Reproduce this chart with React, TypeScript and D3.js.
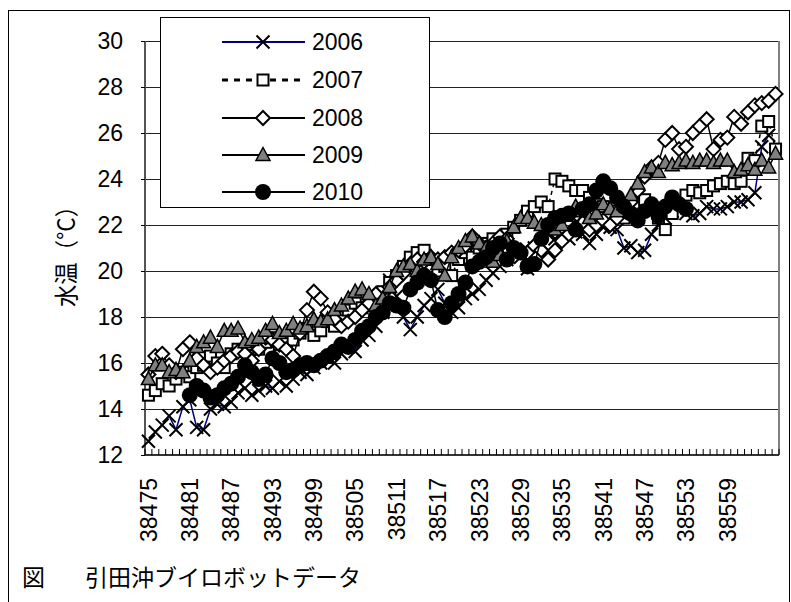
import React from "react";
import * as d3 from "d3";

// ---- data -------------------------------------------------------------
const firstDay = 38475;
const dayCount = 92;
const categories: number[] = d3.range(dayCount).map((i) => firstDay + i);
const tickLabels: string[] = [
  "38475", "38481", "38487", "38493", "38499", "38505", "38511", "38517",
  "38523", "38529", "38535", "38541", "38547", "38553", "38559",
];
const yTicks: number[] = [12, 14, 16, 18, 20, 22, 24, 26, 28, 30];

const s2006: (number | null)[] = [
  12.6, 13.0, 13.3, 13.7, 13.1, 14.1, 14.4, 13.2, 13.1, 14.0,
  14.2, 14.1, 14.3, 14.7, 14.9, 14.6, 14.8, 15.0, 14.9, 15.2,
  15.0, 15.3, 15.6, 15.5, 15.8, 16.0, 16.2, 16.0, 16.4, 16.7,
  16.5, 17.0, 17.2, 17.6, 18.2, 19.6, 18.9, 18.0, 17.45, 18.0,
  18.5, 18.8, 19.2, 18.6, 18.2, 18.4, 18.8, 19.0, 19.2, 19.6,
  19.9, 20.2, 20.5, 20.8, 20.6, 20.1, 21.0, 21.2, 21.6, 21.4,
  21.5, 21.4, 21.7, 21.6, 21.2, 21.6, 21.9, 21.9, 21.8, 21.0,
  21.1, 20.8, 20.9, 21.6, 22.0, 22.3, 22.6, 22.8, 22.5, 22.4,
  22.5, 22.8, 22.7, 22.7, 22.8, 23.0, 23.0, 23.1, 23.4, 25.4,
  25.9, null,
];
const s2007: (number | null)[] = [
  14.6, 14.8, 15.1, 15.0, 15.3, 15.6, 15.4, 15.8, 15.9, 16.3,
  16.0, 15.8, 16.4, 16.6, 16.5, 16.8, 16.6, 16.9, 17.1, 16.8,
  16.9, 17.0, 17.3, 17.5, 17.2, 17.4, 17.8, 17.6, 18.0, 18.3,
  18.6, 18.4, 18.5, 18.7, 19.1, 19.5, 19.8, 20.2, 20.6, 20.8,
  20.9, 20.5, 20.0, 20.2, 19.8, 20.5, 20.8, 20.6, 21.0, 21.2,
  21.4, 21.3, 21.6, 21.9, 22.2, 22.6, 22.8, 23.0, 22.8, 24.0,
  23.9, 23.7, 23.5, 23.5, 23.2, 22.9, 22.8, 22.5, 22.6, 22.3,
  22.6, 22.9, 23.1, 22.8, 22.3, 21.8, 22.5, 23.0, 23.3, 23.5,
  23.4, 23.5, 23.7, 23.8, 23.9, 23.8, 23.9, 24.9, 24.8, 26.3,
  26.5, 25.3,
];
const s2008: (number | null)[] = [
  15.5, 16.3, 16.4, 15.9, 15.6, 16.6, 16.9, 16.2, 15.9, 15.6,
  15.8, 16.1, 16.3, 16.5, 16.4, 16.1, 16.6, 17.1, 17.0, 16.8,
  16.6, 16.3, 17.3, 18.3, 19.1, 18.8, 18.2, 17.9, 17.6, 17.8,
  18.0, 18.3, 18.6, 19.0, 18.7, 19.3, 19.6, 19.9, 20.3, 20.5,
  20.4, 20.6, 20.5, 20.6, 20.8, 20.9, 21.1, 21.5, 21.2, 21.0,
  21.2, 21.5, 21.4, 21.0, 20.9, 20.8, 21.1, 20.9, 20.5, 20.9,
  21.3, 21.6, 21.9, 22.1, 21.8, 22.0, 22.2, 22.0, 22.3, 22.6,
  23.0, 23.5, 24.1, 24.5, 24.7, 25.7, 26.0, 25.3, 25.4, 26.0,
  26.3, 26.6, 25.3, 25.7, 25.8, 26.7, 26.4, 26.9, 27.2, 27.3,
  27.4, 27.7,
];
const s2009: (number | null)[] = [
  15.3, 15.9, 15.9, 15.6, 15.7, 15.6, 16.1, 16.7, 16.9, 17.1,
  16.7, 17.4, 17.4, 17.5, 16.9, 17.0, 17.1, 17.4, 17.7, 17.3,
  17.4, 17.7, 17.5, 17.6, 17.9, 17.8, 17.9, 18.3, 18.5, 18.8,
  19.1, 19.2, 19.0, 18.5, 18.8, 19.3, 20.0, 20.2, 20.3, 20.0,
  20.5, 20.6, 20.3, 19.8, 20.6, 21.0, 21.3, 21.5, 21.2, 21.0,
  20.4, 20.7, 21.3, 21.9, 22.3, 22.3, 22.1, 22.0, 21.9, 21.8,
  22.0, 22.4, 22.8, 22.6, 22.3, 22.5, 22.9, 22.7, 22.6, 22.9,
  23.3, 23.8, 24.3, 24.5, 24.3, 24.7, 24.6, 24.7, 24.8, 24.7,
  24.8, 24.8, 24.7, 24.8, 24.8, 24.3, 24.4, 24.6, 24.4, 24.8,
  24.5, 25.1,
];
const s2010: (number | null)[] = [
  null, null, null, null, null, null,
  14.6, 15.0, 14.8, 14.5, 14.6, 14.9, 15.1, 15.4, 15.9, 15.6,
  15.3, 15.5, 16.2, 16.0, 15.6, 15.7, 15.9, 16.0, 15.9, 16.1,
  16.3, 16.5, 16.8, 16.7, 17.0, 17.4, 17.6, 18.0, 18.2, 18.6,
  18.5, 18.4, 19.2, 19.5, 19.8, 19.6, 18.3, 18.0, 18.6, 19.0,
  19.5, 20.2, 20.4, 20.6, 21.0, 21.2, 20.5, 21.0, 20.8, 20.2,
  20.3, 21.4, 22.0, 22.3, 22.4, 22.5, 21.8, 22.7, 22.9, 23.5,
  23.9, 23.6, 23.2, 22.8, 22.5, 22.2, 22.6, 22.9, 22.4, 22.8,
  23.2, 22.9, 22.7,
  null, null, null, null, null, null, null, null, null, null, null, null, null,
];
const seriesNames: string[] = ["2006", "2007", "2008", "2009", "2010"];
const seriesValues = [s2006, s2007, s2008, s2009, s2010];

// ---- layout -----------------------------------------------------------
const W = 791;
const H = 602;
const plotL = 145;
const plotR = 779;
const plotT = 41;
const plotB = 455;
const NUM_FONT = "'Liberation Sans', Arial, sans-serif";
const JP_FONT = "'Noto Sans CJK JP', 'Noto Sans', sans-serif";

type Kind = "x" | "square" | "diamond" | "triangle" | "circle";
const styles: { kind: Kind; stroke: string; dash?: string }[] = [
  { kind: "x", stroke: "#000080" },
  { kind: "square", stroke: "#000", dash: "4,4" },
  { kind: "diamond", stroke: "#000" },
  { kind: "triangle", stroke: "#000" },
  { kind: "circle", stroke: "#000" },
];

function Marker({ kind, x, y }: { kind: Kind; x: number; y: number }) {
  switch (kind) {
    case "x":
      return (
        <path
          d={`M${x - 6.5},${y - 6.5}L${x + 6.5},${y + 6.5}M${x - 6.5},${y + 6.5}L${x + 6.5},${y - 6.5}`}
          stroke="#000"
          strokeWidth={2}
          fill="none"
        />
      );
    case "square":
      return <rect x={x - 5.5} y={y - 5.5} width={11} height={11} fill="#fff" stroke="#000" strokeWidth={2} />;
    case "diamond":
      return (
        <path
          d={`M${x},${y - 7}L${x + 7},${y}L${x},${y + 7}L${x - 7},${y}Z`}
          fill="#fff"
          stroke="#000"
          strokeWidth={2}
        />
      );
    case "triangle":
      return (
        <path
          d={`M${x},${y - 7.5}L${x + 7},${y + 5.5}L${x - 7},${y + 5.5}Z`}
          fill="#808080"
          stroke="#000"
          strokeWidth={1.5}
        />
      );
    case "circle":
      return <circle cx={x} cy={y} r={8} fill="#000" />;
  }
}

export default function App() {
  const x = d3.scaleBand<number>().domain(categories).range([plotL, plotR]).padding(0);
  const y = d3.scaleLinear().domain([12, 30]).range([plotB, plotT]);
  const cx = (d: number) => (x(d) as number) + x.bandwidth() / 2;

  const line = d3
    .line<{ d: number; v: number | null }>()
    .defined((p) => p.v != null)
    .x((p) => cx(p.d))
    .y((p) => y(p.v as number));

  const tickBounds = d3.range(dayCount + 1).map((i) => plotL + i * x.bandwidth());

  const legX = 160;
  const legY = 17;
  const legW = 269;
  const legH = 190;
  const legRows = [42, 80, 118, 155, 192];

  return (
    <svg
      width={W}
      height={H}
      style={{ position: "absolute", left: 0, top: 0, background: "#fff" }}
    >
      <rect x={0} y={0} width={W} height={H} fill="#fff" />
      {/* outer frame */}
      <rect x={8.5} y={10.5} width={781} height={620} fill="none" stroke="#000" strokeWidth={1} />

      {/* gridlines */}
      {yTicks.map((t) => (
        <line key={t} x1={plotL} x2={plotR} y1={Math.round(y(t)) + 0.5} y2={Math.round(y(t)) + 0.5} stroke="#222" strokeWidth={1} />
      ))}

      {/* y tick labels */}
      {yTicks.map((t) => (
        <text key={t} x={123} y={y(t)} dy="0.36em" textAnchor="end" fontFamily={NUM_FONT} fontSize={23} fill="#000">
          {t}
        </text>
      ))}

      {/* y axis title */}
      <text
        transform={`translate(66,251) rotate(-90)`}
        textAnchor="middle"
        dy="0.36em"
        fontFamily={JP_FONT}
        fontSize={24}
        textLength={112}
        lengthAdjust="spacingAndGlyphs"
        fill="#000"
      >
        水温（°C）
      </text>

      {/* plot frame */}
      <line x1={plotL} x2={plotL} y1={plotT} y2={plotB} stroke="#555" strokeWidth={2} />
      <line x1={plotR} x2={plotR} y1={plotT} y2={plotB} stroke="#808080" strokeWidth={2} />
      <line x1={plotL} x2={plotR} y1={plotB} y2={plotB} stroke="#333" strokeWidth={2} />
      {tickBounds.map((bx, i) => (
        <line key={i} x1={bx} x2={bx} y1={plotB} y2={plotB - 6} stroke="#000" strokeWidth={1} />
      ))}
      {yTicks.map((t) => (
        <line key={t} x1={plotL - 4} x2={plotL} y1={Math.round(y(t)) + 0.5} y2={Math.round(y(t)) + 0.5} stroke="#000" strokeWidth={1} />
      ))}

      {/* x tick labels */}
      {tickLabels.map((lab) => {
        const d = +lab;
        return (
          <text
            key={lab}
            transform={`translate(${cx(d)},478) rotate(-90)`}
            textAnchor="end"
            dy="0.36em"
            fontFamily={NUM_FONT}
            fontSize={23}
            fill="#000"
          >
            {lab}
          </text>
        );
      })}

      {/* series */}
      {seriesValues.map((vals, si) => {
        const pts = categories.map((d, i) => ({ d, v: vals[i] }));
        const st = styles[si];
        return (
          <g key={si}>
            <path
              d={line(pts) || ""}
              fill="none"
              stroke={st.stroke}
              strokeWidth={1.5}
              strokeDasharray={st.dash}
            />
            {pts
              .filter((p) => p.v != null)
              .map((p, i) => (
                <Marker key={i} kind={st.kind} x={cx(p.d)} y={y(p.v as number)} />
              ))}
          </g>
        );
      })}

      {/* legend */}
      <rect x={legX + 0.5} y={legY + 0.5} width={legW} height={legH} fill="#fff" stroke="#000" strokeWidth={1} />
      {seriesNames.map((name, i) => {
        const st = styles[i];
        const ry = legRows[i];
        return (
          <g key={name}>
            <line
              x1={222}
              x2={305}
              y1={ry}
              y2={ry}
              stroke={st.stroke}
              strokeWidth={st.dash ? 3 : 2}
              strokeDasharray={st.dash ? "6,6" : undefined}
            />
            <Marker kind={st.kind} x={263} y={ry} />
            <text x={312} y={ry} dy="0.36em" fontFamily={NUM_FONT} fontSize={23} fill="#000">
              {name}
            </text>
          </g>
        );
      })}

      {/* caption */}
      <text x={22} y={578} dy="0.36em" fontFamily={JP_FONT} fontSize={23} fill="#000">
        図
      </text>
      <text x={85} y={578} dy="0.36em" fontFamily={JP_FONT} fontSize={23} fill="#000">
        引田沖ブイロボットデータ
      </text>
    </svg>
  );
}
